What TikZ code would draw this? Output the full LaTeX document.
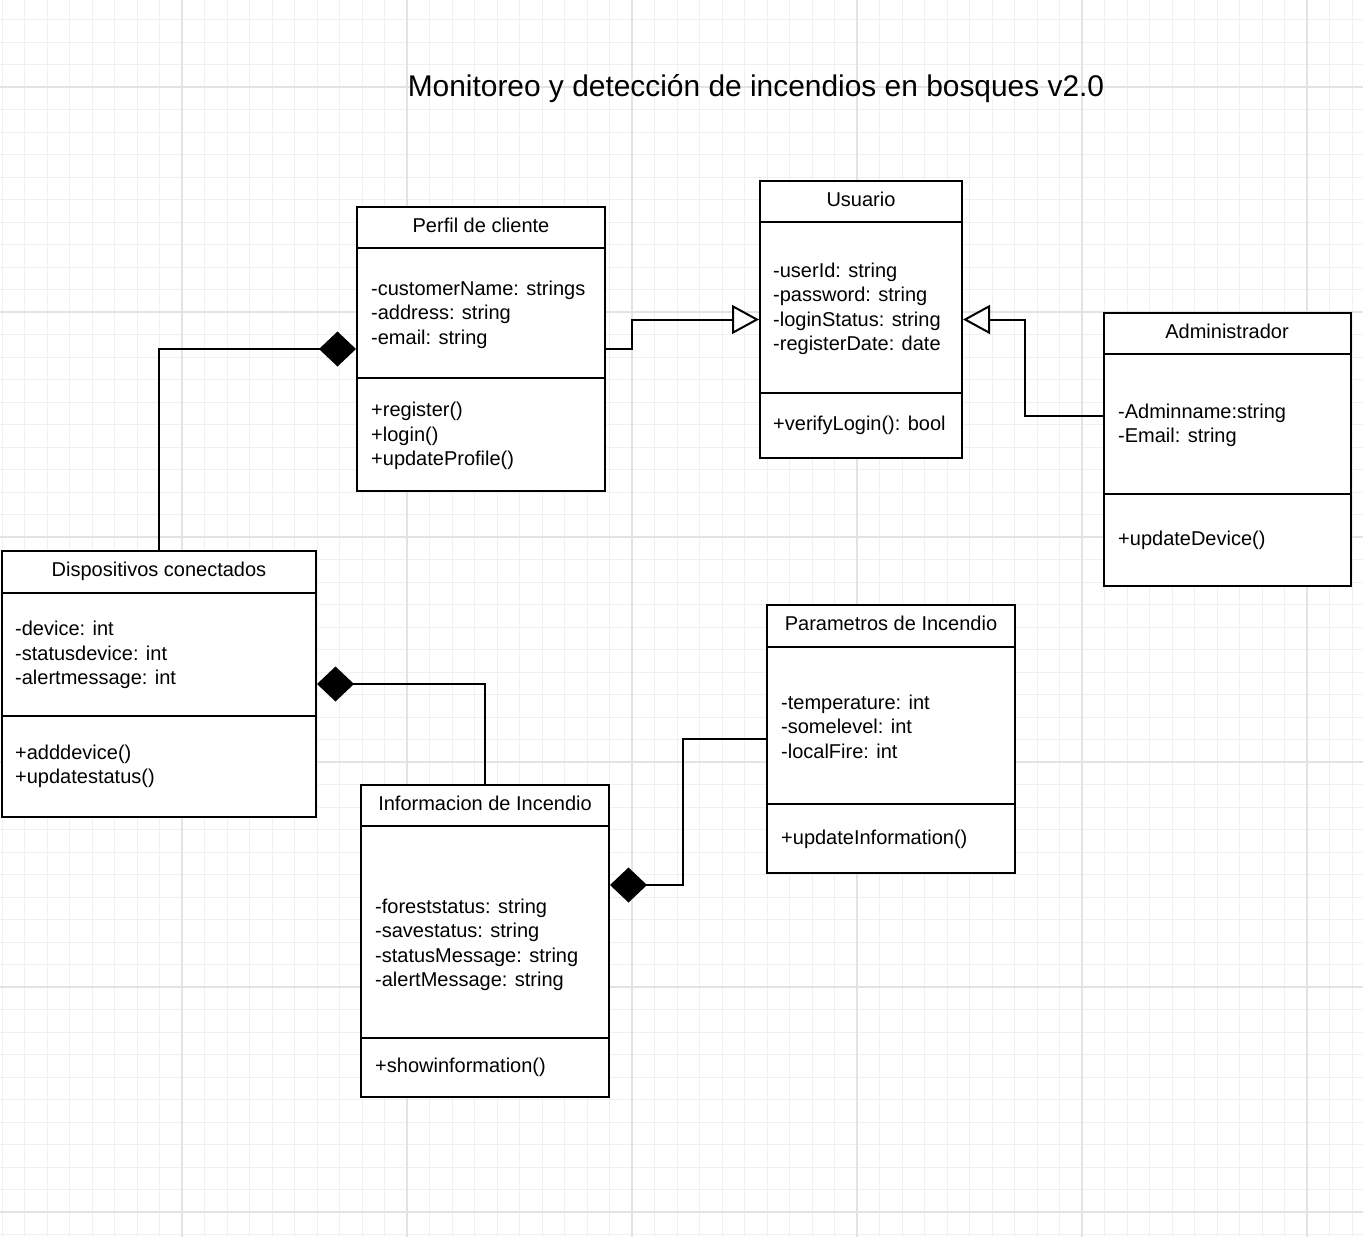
\documentclass[tikz,border=0pt]{standalone}
\usepackage{fontspec}
\setmainfont{Liberation Sans}
\usetikzlibrary{arrows.meta}

\begin{document}
\begin{tikzpicture}[x=1pt, y=-1pt,
    classbox/.style={draw, line width=2pt, fill=white, inner sep=0pt},
    rule/.style={line width=2pt},
    members/.style={anchor=west, align=left, inner sep=0pt, yshift=-2.5pt, font=\fontsize{20}{24.4}\selectfont},
    caption/.style={inner sep=0pt, font=\fontsize{20}{24}\selectfont},
    conn/.style={line width=2pt},
    inherit/.style={conn, -{Triangle[open, length=27pt, width=29pt, fill=white]}},
    compose/.style={conn, -{Diamond[length=37pt, width=35pt]}},
    minorgrid/.style={draw=black!6, line width=1pt},
    majorgrid/.style={draw=black!11, line width=1.2pt}]
    \useasboundingbox (0,0) rectangle (1363,1237);
    % background grid
    \fill[white] (0,0) rectangle (1363,1237);
    \foreach \x in {2,24.5,...,1363} \draw[minorgrid] (\x,0) -- (\x,1237);
    \foreach \y in {19.5,42,...,1237} \draw[minorgrid] (0,\y) -- (1363,\y);
    \foreach \x in {182,407,632,857,1082,1307} \draw[majorgrid] (\x,0) -- (\x,1237);
    \foreach \y in {87,312,537,762,987,1212} \draw[majorgrid] (0,\y) -- (1363,\y);

    \node[inner sep=0pt, font=\fontsize{29.9}{34}\selectfont] (title) at (756,89) {Monitoreo y detección de incendios en bosques v2.0};

    % classes
    \node[classbox, minimum width=248pt, minimum height=284pt] (perfil) at (481,349) {};
    \node[classbox, minimum width=202pt, minimum height=277pt] (usuario) at (861,319.5) {};
    \node[classbox, minimum width=247pt, minimum height=273pt] (admin) at (1227.5,449.5) {};
    \node[classbox, minimum width=314pt, minimum height=266pt] (disp) at (159,684) {};
    \node[classbox, minimum width=248pt, minimum height=312pt] (info) at (485,941) {};
    \node[classbox, minimum width=248pt, minimum height=268pt] (param) at (891,739) {};
    \foreach \n/\h/\d in {perfil/42/172, usuario/42/213, admin/42/182, disp/43/166, info/42/254, param/43/200} {
        \draw[rule] ([yshift=-\h pt]\n.north west) -- ([yshift=-\h pt]\n.north east);
        \draw[rule] ([yshift=-\d pt]\n.north west) -- ([yshift=-\d pt]\n.north east);
    }

    \node[caption] (perfil-name) at (481,225.5) {Perfil de cliente};
    \node[members] (perfil-attr) at (371,312) {-customerName: strings\\-address: string\\-email: string};
    \node[members] (perfil-ops) at (371,433.5) {+register()\\+login()\\+updateProfile()};

    \node[caption] (usuario-name) at (861,199.5) {Usuario};
    \node[members] (usuario-attr) at (773,306.5) {-userId: string\\-password: string\\-loginStatus: string\\-registerDate: date};
    \node[members] (usuario-ops) at (773,423) {+verifyLogin(): bool};

    \node[caption] (admin-name) at (1227,331.5) {Administrador};
    \node[members] (admin-attr) at (1118,423) {-Adminname:string\\-Email: string};
    \node[members] (admin-ops) at (1118,538) {+updateDevice()};

    \node[caption] (disp-name) at (159,571) {Dispositivos conectados};
    \node[members] (disp-attr) at (15,652.5) {-device: int\\-statusdevice: int\\-alertmessage: int};
    \node[members] (disp-ops) at (15,764) {+adddevice()\\+updatestatus()};

    \node[caption] (info-name) at (485,803.5) {Informacion de Incendio};
    \node[members] (info-attr) at (375,942.5) {-foreststatus: string\\-savestatus: string\\-statusMessage: string\\-alertMessage: string};
    \node[members] (info-ops) at (375,1065) {+showinformation()};

    \node[caption] (param-name) at (891,623.5) {Parametros de Incendio};
    \node[members] (param-attr) at (781,724) {-temperature: int\\-somelevel: int\\-localFire: int};
    \node[members] (param-ops) at (781,837) {+updateInformation()};

    % relations
    \draw[inherit] (perfil.east) -- ++(26,0) |- (usuario.west);
    \draw[inherit] ([yshift=33.5pt]admin.west) -- ++(-78,0) |- (usuario.east);
    \draw[compose] (disp.north) |- (perfil.west);
    \draw[compose] (info.north) |- (disp.east);
    \draw[compose] (param.west) -- ++(-83,0) |- ([yshift=56pt]info.east);
\end{tikzpicture}
\end{document}
